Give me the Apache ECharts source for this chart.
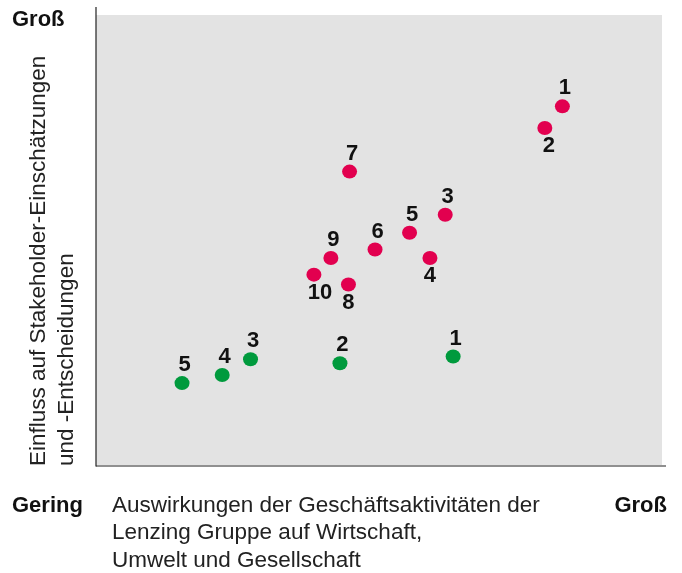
<!DOCTYPE html>
<html><head><meta charset="utf-8">
<script src="https://cdn.jsdelivr.net/npm/echarts@6/dist/echarts.min.js"></script>
<style>html,body{margin:0;padding:0;background:#fff}#c{width:682px;height:573px}</style>
</head><body><div id="c"></div>
<script>
// Data (axis scale 0..100, "Gering" -> "Groß")
const redLabels = ['1','2','3','4','5','6','7','8','9','10'];
const redX = [82.4, 79.3, 61.7, 59.0, 55.4, 49.3, 44.8, 44.6, 41.5, 38.5];
const redY = [79.7, 74.9, 55.6, 46.0, 51.6, 47.9, 65.2, 40.1, 46.0, 42.3];
const greenLabels = ['1','2','3','4','5'];
const greenX = [63.1, 43.1, 27.3, 22.3, 15.2];
const greenY = [24.1, 22.6, 23.5, 20.0, 18.2];
const xTitle = 'Auswirkungen der Geschäftsaktivitäten der\nLenzing Gruppe auf Wirtschaft,\nUmwelt und Gesellschaft';
const yTitle1 = 'Einfluss auf Stakeholder-Einschätzungen';
const yTitle2 = 'und -Entscheidungen';
const lowLabel = 'Gering';
const highLabel = 'Groß';

// label placement (styling only)
const redBelow = new Set(['2','4','8','10']);
const labelShift = { '4': 0, '8': 0, '10': 6, '2': 4 };
const FONT = '"Liberation Sans", Arial, Helvetica, sans-serif';

function build(labels, xs, ys, belowSet, shiftMap) {
  return labels.map((l, i) => {
    const below = belowSet && belowSet.has(l);
    const dx = shiftMap && (l in shiftMap) ? shiftMap[l] : 2.5;
    return {
      value: [xs[i], ys[i]],
      name: l,
      label: {
        position: below ? 'bottom' : 'top',
        distance: 0,
        offset: [dx, 0]
      }
    };
  });
}

const labelStyle = {
  show: true,
  formatter: p => p.name,
  color: '#111',
  fontFamily: FONT,
  fontWeight: 'bold',
  fontSize: 22
};

const chart = echarts.init(document.getElementById('c'));
chart.setOption({
  animation: false,
  grid: { left: 96, top: 15, right: 20, bottom: 108, show: true, backgroundColor: '#e3e3e3', borderWidth: 0 },
  xAxis: { type: 'value', min: 0, max: 100, axisLine: { show: false }, axisTick: { show: false }, axisLabel: { show: false }, splitLine: { show: false } },
  yAxis: { type: 'value', min: 0, max: 100, axisLine: { show: false }, axisTick: { show: false }, axisLabel: { show: false }, splitLine: { show: false } },
  series: [
    {
      type: 'scatter',
      symbol: 'circle',
      symbolSize: [15, 14],
      itemStyle: { color: '#e2004f', opacity: 1 },
      label: labelStyle,
      data: build(redLabels, redX, redY, redBelow, labelShift)
    },
    {
      type: 'scatter',
      symbol: 'circle',
      symbolSize: [15, 14],
      itemStyle: { color: '#009a3d', opacity: 1 },
      label: labelStyle,
      data: build(greenLabels, greenX, greenY, null, null)
    }
  ],
  graphic: [
    { type: 'line', shape: { x1: 96, y1: 7, x2: 96, y2: 466.5 }, style: { stroke: '#222', lineWidth: 1.2 } },
    { type: 'line', shape: { x1: 96, y1: 466, x2: 666, y2: 466 }, style: { stroke: '#222', lineWidth: 1.2 } },
    { type: 'text', left: 12, top: 9, style: { text: highLabel, font: 'bold 22px ' + FONT, fill: '#111' } },
    { type: 'text', left: 12, top: 495, style: { text: lowLabel, font: 'bold 22px ' + FONT, fill: '#111' } },
    { type: 'text', right: 15, top: 495, style: { text: highLabel, font: 'bold 22px ' + FONT, fill: '#111' } },
    { type: 'text', left: 112, top: 492, style: { text: xTitle, font: '22.5px ' + FONT, fill: '#222', lineHeight: 27.5 } },
    { type: 'text', x: 27, y: 466, rotation: Math.PI / 2, style: { text: yTitle1, font: '22.5px ' + FONT, fill: '#222', align: 'left', verticalAlign: 'top' } },
    { type: 'text', x: 55, y: 466, rotation: Math.PI / 2, style: { text: yTitle2, font: '22.5px ' + FONT, fill: '#222', align: 'left', verticalAlign: 'top' } }
  ]
});
</script>
</body></html>
